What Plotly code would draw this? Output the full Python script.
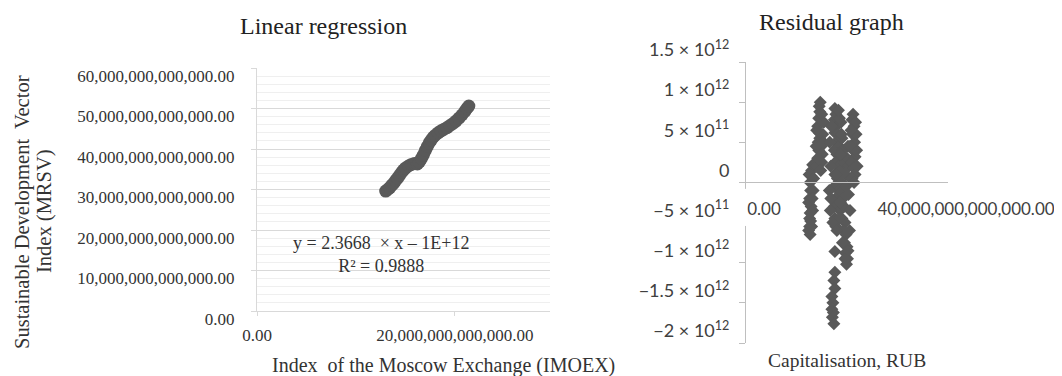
import plotly.graph_objects as go

T = 1e12  # values below are in trillions

# linear regression scatter: IMOEX index vs MRSV index (trillions)
lin_x = [13.0, 13.2, 13.4, 13.6, 13.8, 14.0, 14.2, 14.4, 14.6, 14.8, 15.0, 15.3,
         15.6, 15.9, 16.2, 16.4, 16.6, 16.8, 17.0, 17.2, 17.4, 17.6, 17.8, 18.0,
         18.3, 18.6, 18.9, 19.2, 19.5, 19.8, 20.1, 20.4, 20.7, 21.0, 21.2, 21.4]
lin_y = [29.6, 30.0, 30.4, 31.0, 31.5, 32.2, 32.8, 33.5, 34.2, 34.8, 35.3, 35.8,
         36.2, 36.4, 36.3, 36.8, 37.6, 38.5, 39.6, 40.6, 41.5, 42.2, 42.9, 43.4,
         44.0, 44.5, 44.9, 45.3, 45.8, 46.3, 46.9, 47.6, 48.4, 49.3, 50.0, 50.6]

# residuals: capitalisation (trillions) vs residual (x 1e12)
res_x = [12.6, 12.7, 12.8, 12.7, 12.9, 12.6, 12.8, 12.7, 12.9, 13.0, 13.2, 12.6,
         12.4, 13.2, 13.3, 12.5, 13.4, 12.4, 13.0, 13.1,
         14.0, 14.2, 14.4, 14.3, 14.6, 14.5, 14.2, 14.4, 14.6, 14.5, 14.7, 14.9, 15.1, 15.0, 14.8,
         15.2, 15.4, 15.0, 13.9, 15.3, 14.0,
         17.6, 17.8, 17.5, 17.9, 17.6, 18.2, 17.8, 18.4, 17.5, 18.0, 18.6, 17.7, 18.3, 18.8,
         17.6, 18.1, 18.9, 17.5, 18.4, 19.0, 17.7, 18.2, 19.2, 17.5, 18.6, 19.4, 17.6, 17.8,
         19.0, 19.6, 19.3, 19.8, 19.5, 20.0, 19.7, 20.1, 19.9, 18.8, 19.0, 18.5, 19.2, 19.5,
         19.7, 20.0, 19.8, 20.2, 20.4, 20.3,
         16.6, 16.8, 16.5, 16.7, 18.9, 18.7, 18.5, 18.0, 19.1, 20.5, 20.6, 20.7, 20.2, 19.6,
         16.9, 18.3, 18.0, 18.7, 17.2, 16.8,
         17.6, 17.6, 17.4, 17.6, 17.0, 17.2, 17.0, 17.3, 17.1, 17.4,
         21.2, 21.0, 21.4, 21.1, 21.5, 21.2, 21.6, 20.9, 21.3, 21.6, 21.0, 21.4,
         21.8, 21.9, 22.0, 21.7, 20.8, 20.6]
res_y = [-0.55, -0.65, -0.48, -0.38, -0.30, -0.20, -0.10, 0.00, 0.08, 0.15, 0.22, -0.45,
         -0.25, -0.35, -0.10, 0.10, 0.05, -0.60, -0.55, -0.20,
         0.20, 0.30, 0.40, 0.50, 0.55, 0.62, 0.70, 0.80, 0.88, 0.95, 1.00, 0.45, 0.35, 0.25, 0.15,
         0.60, 0.75, 0.85, 0.45, 0.50, 0.65,
         0.92, 0.85, 0.78, 0.70, 0.62, 0.60, 0.50, 0.45, 0.40, 0.35, 0.30, 0.25, 0.20, 0.15,
         0.10, 0.05, 0.00, -0.05, -0.10, -0.12, -0.20, -0.25, -0.20, -0.30, -0.35, -0.30, -0.45, -0.55,
         -0.45, -0.50, -0.60, -0.65, -0.75, -0.80, -0.88, -0.95, -1.02, 0.75, 0.55, 0.80, 0.40, 0.25,
         0.10, 0.30, -0.05, 0.45, 0.20, -0.15,
         0.50, 0.20, -0.10, -0.35, 0.60, 0.35, -0.45, -0.60, -0.75, -0.60, -0.35, 0.05, -0.85, -0.95,
         0.70, 0.90, 0.10, -0.25, -0.50, -0.20,
         -0.86, -1.12, -1.22, -1.32, -1.42, -1.50, -1.58, -1.62, -1.68, -1.76,
         0.85, 0.78, 0.70, 0.60, 0.50, 0.40, 0.32, 0.25, 0.18, 0.10, 0.05, 0.00,
         0.60, 0.40, 0.20, 0.75, 0.65, 0.45]

res_ticks = [-2.0, -1.5, -1.0, -0.5, 0, 0.5, 1.0, 1.5]
res_ticktext = ["\u22122 \u00d7 10<sup>12</sup>", "\u22121.5 \u00d7 10<sup>12</sup>",
                "\u22121 \u00d7 10<sup>12</sup>", "\u22125 \u00d7 10<sup>11</sup>", "0",
                "5 \u00d7 10<sup>11</sup>", "1 \u00d7 10<sup>12</sup>", "1.5 \u00d7 10<sup>12</sup>"]

# page body has an 8px margin, so the figure is drawn 8px smaller and offset
OFF = 8
W, H = 1062 - OFF, 376 - OFF
SERIF = "Liberation Serif, Times New Roman, serif"
SANS = "Lato, Calibri, sans-serif"
GREY = "#595959"


def px_x(p):
    return (p - OFF) / W


def px_y(p):
    return (H - (p - OFF)) / H


def label(text, x, y, size, color="#333333", angle=0):
    return dict(text=text, xref="paper", yref="paper", x=px_x(x), y=px_y(y), xanchor="center",
                yanchor="middle", textangle=angle, showarrow=False, align="center",
                font=dict(size=size, color=color))


fig = go.Figure()
fig.add_trace(go.Scatter(x=[v * T for v in lin_x], y=[v * T for v in lin_y], mode="markers",
                         marker=dict(color=GREY, size=13), xaxis="x", yaxis="y", showlegend=False))
fig.add_trace(go.Scatter(x=[v * T for v in res_x], y=[v * T for v in res_y], mode="markers",
                         marker=dict(color=GREY, size=10, symbol="diamond"),
                         xaxis="x2", yaxis="y2", showlegend=False))

y2_dom = [px_y(343), px_y(62)]
y2_rng = [-2e12, 1.5e12]
x2_pos = y2_dom[0] + (0 - y2_rng[0]) / (y2_rng[1] - y2_rng[0]) * (y2_dom[1] - y2_dom[0])

fig.update_layout(
    template="none", width=W, height=H, margin=dict(l=0, r=0, t=0, b=0),
    paper_bgcolor="white", plot_bgcolor="white",
    font=dict(family=SERIF, color="#333333"),
    xaxis=dict(domain=[px_x(257), px_x(550)], range=[0, 29.6e12], anchor="y",
               tickvals=[0, 20e12], tickformat=",.2f", showgrid=False, zeroline=False,
               showline=True, linecolor="#d9d9d9", ticks="outside", ticklen=4, tickcolor="#d9d9d9",
               ticklabelstandoff=5, tickfont=dict(family=SERIF, size=17, color="#333333")),
    yaxis=dict(domain=[px_y(311), px_y(68)], range=[0, 60e12], anchor="x",
               dtick=10e12, tickformat=",.2f", showgrid=True, gridcolor="#d9d9d9", zeroline=False,
               minor=dict(dtick=2e12, showgrid=True, gridcolor="#efefef"),
               showline=True, linecolor="#d9d9d9", ticks="outside", ticklen=5, tickcolor="#d9d9d9",
               ticklabelstandoff=13, ticklabelshift=8,
               tickfont=dict(family=SERIF, size=17, color="#333333")),
    xaxis2=dict(domain=[px_x(746), px_x(948)], range=[0, 40e12], anchor="free", position=x2_pos,
                tickvals=[0, 40e12], tickformat=",.2f", showgrid=False, zeroline=False,
                showline=True, linecolor="#bfbfbf", ticks="", ticklabelshift=18, ticklabelstandoff=11,
                tickfont=dict(family=SANS, size=17, color="#404040")),
    yaxis2=dict(domain=y2_dom, range=y2_rng, anchor="x2",
                tickvals=[v * T for v in res_ticks], ticktext=res_ticktext,
                showgrid=False, zeroline=False, showline=True, linecolor="#bfbfbf",
                ticks="outside", ticklen=6, tickcolor="#bfbfbf", ticklabelshift=-12, ticklabelstandoff=6,
                tickfont=dict(family=SANS, size=18, color="#404040")),
    shapes=[
        dict(type="rect", xref="paper", yref="y2", x0=px_x(745.0), x1=px_x(747.2),
             y0=-0.54e12, y1=-0.08e12, fillcolor="white", line=dict(width=0), layer="above"),
        dict(type="rect", xref="paper", yref="y2", x0=px_x(738), x1=px_x(747.2),
             y0=-0.54e12, y1=-0.42e12, fillcolor="white", line=dict(width=0), layer="above"),
    ],
    annotations=[
        label("Linear regression", 323, 26, 24, "#222222"),
        label("Residual graph", 831, 22, 24, "#222222"),
        label("Sustainable Development  Vector", 22, 212, 20.5, angle=-90),
        label("Index (MRSV)", 45, 211, 20.5, angle=-90),
        label("Index  of the Moscow Exchange (IMOEX)", 443, 365, 20),
        label("Capitalisation, RUB", 847, 360, 19.5),
        label("y = 2.3668  \u00d7 x \u2013 1E+12<br>R\u00b2 = 0.9888", 381, 254, 18),
    ],
)

fig.write_html("out.html")
